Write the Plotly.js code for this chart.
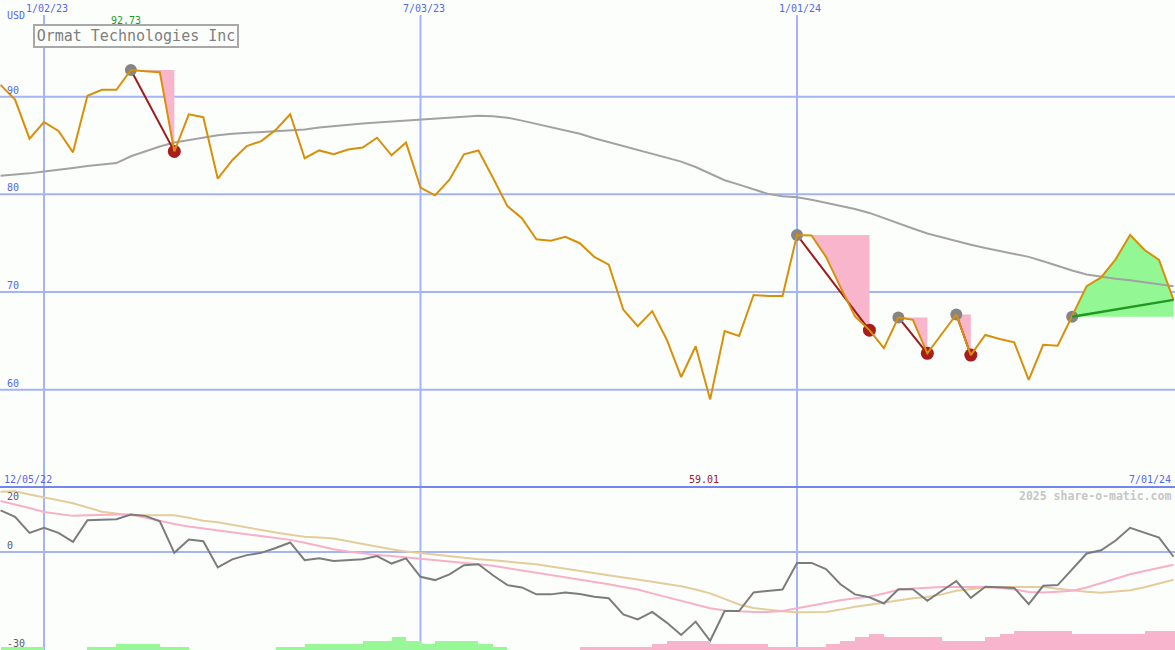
<!DOCTYPE html>
<html><head><meta charset="utf-8">
<script src="https://cdn.plot.ly/plotly-3.0.1.min.js"></script>
<style>html,body{margin:0;padding:0;background:#fcfefc;overflow:hidden}</style>
</head><body><div id="chart" style="width:1175px;height:650px"></div>
<script>
// ---- data ----
const weeks = [
'2022-12-12','2022-12-19','2022-12-26',
'2023-01-02','2023-01-09','2023-01-16','2023-01-23','2023-01-30',
'2023-02-06','2023-02-13','2023-02-20','2023-02-27',
'2023-03-06','2023-03-13','2023-03-20','2023-03-27',
'2023-04-03','2023-04-10','2023-04-17','2023-04-24',
'2023-05-01','2023-05-08','2023-05-15','2023-05-22','2023-05-29',
'2023-06-05','2023-06-12','2023-06-19','2023-06-26',
'2023-07-03','2023-07-10','2023-07-17','2023-07-24','2023-07-31',
'2023-08-07','2023-08-14','2023-08-21','2023-08-28',
'2023-09-04','2023-09-11','2023-09-18','2023-09-25',
'2023-10-02','2023-10-09','2023-10-16','2023-10-23','2023-10-30',
'2023-11-06','2023-11-13','2023-11-20','2023-11-27',
'2023-12-04','2023-12-11','2023-12-18','2023-12-25',
'2024-01-01','2024-01-08','2024-01-15','2024-01-22','2024-01-29',
'2024-02-05','2024-02-12','2024-02-19','2024-02-26',
'2024-03-04','2024-03-11','2024-03-18','2024-03-25',
'2024-04-01','2024-04-08','2024-04-15','2024-04-22','2024-04-29',
'2024-05-06','2024-05-13','2024-05-20','2024-05-27',
'2024-06-03','2024-06-10','2024-06-17','2024-06-24',
'2024-07-01'];

const price = [
91.2, 89.7, 85.7, 87.4, 86.5, 84.3, 90.1, 90.7, 90.7, 92.73,
92.6, 92.5, 84.4, 88.2, 87.9, 81.6, 83.5, 84.95, 85.45, 86.6,
88.2, 83.7, 84.5, 84.1, 84.6, 84.8, 85.8, 84.0, 85.3, 80.7,
79.9, 81.5, 84.1, 84.5, 81.7, 78.8, 77.55, 75.4, 75.25, 75.65,
75.0, 73.6, 72.8, 68.2, 66.5, 68.05, 65.15, 61.3, 64.45, 59.01,
66.0, 65.5, 69.7, 69.6, 69.6, 75.84, 75.8, 73.6, 70.5, 67.5,
66.1, 64.25, 67.4, 67.15, 63.73, 65.7, 67.7, 63.55, 65.6, 65.2,
64.85, 61.0, 64.6, 64.5, 67.47, 70.6, 71.5, 73.35, 75.84, 74.3,
73.3, 69.2];

const movingAvg = [
81.9, 82.0, 82.15, 82.35, 82.5, 82.7, 82.9, 83.05, 83.2, 83.9,
84.4, 84.9, 85.3, 85.55, 85.85, 86.05, 86.2, 86.28, 86.35, 86.42,
86.5, 86.65, 86.85, 87.0, 87.15, 87.25, 87.35, 87.45, 87.55, 87.65,
87.72, 87.78, 87.9, 88.05, 88.0, 87.85, 87.55, 87.2, 86.85, 86.55,
86.2, 85.75, 85.35, 84.95, 84.6, 84.2, 83.8, 83.35, 82.8, 82.15,
81.45, 81.0, 80.5, 80.05, 79.8, 79.7, 79.45, 79.15, 78.85, 78.5,
78.1, 77.55, 77.0, 76.5, 76.0, 75.6, 75.2, 74.85, 74.5, 74.2,
73.95, 73.6, 73.15, 72.65, 72.2, 71.8, 71.55, 71.35, 71.2, 71.0,
70.8, 70.6];

const oscGray = [
12.8, 10.8, 5.85, 7.4, 5.85, 3.1, 9.75, 10.0, 10.06, 11.5,
11.1, 9.45, -0.3, 3.8, 3.3, -4.8, -2.3, -1.0, -0.3, 1.2,
2.9, -2.55, -2.0, -2.8, -2.6, -2.3, -1.3, -3.6, -2.0, -7.7,
-8.7, -6.95, -4.1, -3.8, -7.2, -10.25, -10.95, -13.1, -13.1, -12.5,
-13.0, -13.85, -14.3, -19.3, -20.8, -18.5, -21.8, -25.6, -21.5, -27.4,
-18.25, -18.25, -12.5, -12.0, -11.6, -3.4, -3.4, -5.3, -10.0, -13.1,
-14.0, -15.9, -11.5, -11.5, -15.1, -12.0, -9.0, -14.15, -10.75, -10.9,
-11.1, -16.1, -10.45, -10.25, -5.5, -0.5, 0.5, 3.5, 7.4, 6.0,
4.4, -1.5];

const oscPink = [
15.7, 14.7, 13.5, 12.3, 11.7, 11.1, 11.3, 11.5, 11.5, 11.5,
10.5, 9.6, 8.6, 7.8, 7.2, 6.7, 6.1, 5.6, 5.0, 4.4,
3.7, 2.8, 1.8, 0.8, 0.1, -0.5, -1.0, -1.3, -1.7, -2.0,
-2.4, -2.9, -3.3, -3.8, -4.3, -5.0, -5.6, -6.3, -7.1, -7.8,
-8.6, -9.3, -10.0, -10.8, -11.6, -12.8, -14.0, -15.2, -16.3, -17.4,
-18.1, -18.4, -18.5, -18.5, -18.2, -17.4, -16.5, -15.6, -14.9, -14.3,
-13.8, -12.8, -11.7, -11.3, -11.0, -10.8, -10.8, -10.8, -10.8, -11.1,
-11.6, -12.4, -12.5, -12.3, -12.0, -11.0, -9.6, -8.2, -6.9, -5.9,
-4.9, -4.0];

const oscTan = [
18.5, 18.7, 17.7, 16.7, 15.9, 15.0, 13.6, 12.4, 11.8, 11.3,
11.3, 11.3, 11.3, 10.5, 9.6, 9.1, 8.3, 7.4, 6.6, 6.0,
5.3, 4.7, 4.4, 4.1, 3.3, 2.4, 1.6, 0.8, 0.1, -0.4,
-0.9, -1.3, -1.8, -2.3, -2.6, -3.0, -3.4, -3.8, -4.5, -5.2,
-6.0, -6.7, -7.3, -7.9, -8.5, -9.2, -9.9, -10.6, -11.6, -12.8,
-14.5, -16.2, -17.3, -17.9, -18.3, -18.6, -18.65, -18.5, -17.8, -16.9,
-16.3, -15.6, -14.8, -14.3, -13.9, -13.1, -12.0, -11.4, -11.0, -10.8,
-10.8, -10.8, -10.8, -11.4, -11.9, -12.3, -12.6, -12.3, -11.8, -10.9,
-9.8, -8.6];

const histo = [
1, 1, 1, 0, 0, 0, 1, 1, 2, 2,
2, 1, 1, 0, 0, 0, 0, 0, 0, 1,
1, 2, 2, 2, 2, 3, 3, 4, 3, 2,
3, 3, 3, 2, 1, 0, 0, 0, 0, 0,
-1, -1, -1, -1, -1, -2, -3, -3, -3, -2,
-2, -2, -2, -1, -1, -1, -1, -2, -3, -4,
-5, -4, -4, -4, -4, -3, -3, -3, -4, -5,
-6, -6, -6, -6, -5, -5, -5, -5, -5, -6,
-6, -6];

const dropPeaks = [9, 55, 62, 66];
const dropLows  = [12, 60, 64, 67];
const risePeak = 74;

const priceTicks = [90, 80, 70, 60];
const oscTicks = [20, 0, -30];
const dateTicks = ['2023-01-02', '2023-07-03', '2024-01-01'];
const dateTickText = ['1/02/23', '7/03/23', '1/01/24'];
const startLabel = '12/05/22';
const endLabel = '7/01/24';
const companyName = 'Ormat Technologies Inc';
const currency = 'USD';
const credit = '2025 share-o-matic.com';

// ---- build ----
const W = 1175, H = 650;
const splitY = 163 / H;           // bottom panel fraction
const mono = 'DejaVu Sans Mono, Liberation Mono, monospace';
const blue = '#5566ee';
const grid = '#a4b4f4';
const N = price.length;

const traces = [];

// drawdown pink fills
dropPeaks.forEach((p, k) => {
  const l = dropLows[k], lvl = price[p];
  const xs = [weeks[p], weeks[l]], ys = [lvl, lvl];
  for (let i = l; i >= p; i--) { xs.push(weeks[i]); ys.push(price[i]); }
  traces.push({x: xs, y: ys, mode: 'lines', fill: 'toself', fillcolor: '#f9b5cc',
    line: {width: 0, color: 'rgba(0,0,0,0)'}, hoverinfo: 'skip', xaxis: 'x', yaxis: 'y'});
});

// rally green fill
(function () {
  const xs = [], ys = [];
  for (let i = risePeak; i < N; i++) { xs.push(weeks[i]); ys.push(price[i]); }
  xs.push(weeks[N - 1]); ys.push(price[risePeak]);
  traces.push({x: xs, y: ys, mode: 'lines', fill: 'toself', fillcolor: '#93f893',
    line: {width: 0, color: 'rgba(0,0,0,0)'}, hoverinfo: 'skip', xaxis: 'x', yaxis: 'y'});
})();

// moving average
traces.push({x: weeks, y: movingAvg, mode: 'lines', line: {color: '#a2a2a2', width: 2},
  xaxis: 'x', yaxis: 'y'});

// oscillator panel lines
traces.push({x: weeks, y: oscTan, mode: 'lines', line: {color: '#e4cc9c', width: 2}, xaxis: 'x', yaxis: 'y2'});
traces.push({x: weeks, y: oscPink, mode: 'lines', line: {color: '#f8b0c8', width: 2}, xaxis: 'x', yaxis: 'y2'});
traces.push({x: weeks, y: oscGray, mode: 'lines', line: {color: '#7c7c7c', width: 2}, xaxis: 'x', yaxis: 'y2'});

// histogram bars
const weekMs = 7 * 24 * 3600 * 1000;
traces.push({type: 'bar', x: weeks, y: histo.map(v => v > 0 ? v : 0), width: weekMs, offset: 0,
  marker: {color: '#98f898', line: {width: 0}}, xaxis: 'x', yaxis: 'y3'});
traces.push({type: 'bar', x: weeks, y: histo.map(v => v < 0 ? -v : 0), width: weekMs, offset: 0,
  marker: {color: '#f8b4cc', line: {width: 0}}, xaxis: 'x', yaxis: 'y3'});

// drop connector lines
(function () {
  const xs = [], ys = [];
  dropPeaks.forEach((p, k) => {
    const l = dropLows[k];
    xs.push(weeks[p], weeks[l], null); ys.push(price[p], price[l], null);
  });
  traces.push({x: xs, y: ys, mode: 'lines', line: {color: '#a01818', width: 2}, xaxis: 'x', yaxis: 'y'});
})();

// markers
traces.push({x: dropPeaks.concat([risePeak]).map(i => weeks[i]), y: dropPeaks.concat([risePeak]).map(i => price[i]),
  mode: 'markers', marker: {color: '#858585', size: 12}, xaxis: 'x', yaxis: 'y'});
traces.push({x: dropLows.map(i => weeks[i]), y: dropLows.map(i => price[i]),
  mode: 'markers', marker: {color: '#a81c1c', size: 13}, xaxis: 'x', yaxis: 'y'});

// price line
traces.push({x: weeks, y: price, mode: 'lines', line: {color: '#d8900a', width: 2}, xaxis: 'x', yaxis: 'y'});

// rally trend line
traces.push({x: [weeks[risePeak], weeks[N - 1]], y: [price[risePeak], price[N - 1]], mode: 'lines',
  line: {color: '#1f9a1f', width: 2.5}, xaxis: 'x', yaxis: 'y'});

// ---- shapes ----
const shapes = [];
priceTicks.forEach(v => shapes.push({type: 'line', xref: 'paper', x0: 0, x1: 1, yref: 'y', y0: v, y1: v,
  line: {color: grid, width: 2}, layer: 'below'}));
dateTicks.forEach(d => shapes.push({type: 'line', xref: 'x', x0: d, x1: d, yref: 'paper', y0: 0, y1: 1 - 15 / H,
  line: {color: grid, width: 2}, layer: 'below'}));
shapes.push({type: 'line', xref: 'paper', x0: 0, x1: 1, yref: 'y2', y0: 0, y1: 0,
  line: {color: grid, width: 2}, layer: 'below'});
shapes.push({type: 'line', xref: 'paper', x0: 0, x1: 1, yref: 'paper', y0: splitY, y1: splitY,
  line: {color: '#7486ee', width: 2}, layer: 'below'});

// ---- annotations ----
const ann = [];
function txt(text, x, y, opts) {
  ann.push(Object.assign({text: text, x: x / W, y: 1 - y / H, xref: 'paper', yref: 'paper',
    showarrow: false, xanchor: 'left', yanchor: 'middle',
    font: {family: mono, size: 10, color: blue}}, opts || {}));
}
txt(currency, 5, 16);
dateTicks.forEach((d, k) => ann.push({text: dateTickText[k], xref: 'x', x: d, xshift: 3,
  yref: 'paper', y: 1 - 8.5 / H, showarrow: false, xanchor: 'center', yanchor: 'middle',
  font: {family: mono, size: 10, color: blue}}));
priceTicks.forEach(v => ann.push({text: String(v), xref: 'paper', x: 5 / W, yref: 'y', y: v, yshift: 6.5,
  showarrow: false, xanchor: 'left', yanchor: 'middle', font: {family: mono, size: 10, color: blue}}));
oscTicks.forEach(v => ann.push({text: String(v), xref: 'paper', x: 5 / W, yref: 'y2', y: v,
  yshift: v === 20 ? -9 : 6, showarrow: false, xanchor: 'left', yanchor: 'middle',
  font: {family: mono, size: 10, color: '#5c5c5c'}}));
// peak and low values
const hiIdx = price.indexOf(Math.max.apply(null, price));
const loIdx = price.indexOf(Math.min.apply(null, price));
ann.push({text: price[hiIdx].toFixed(2), xref: 'x', x: weeks[hiIdx], xshift: -5, yref: 'paper', y: 1 - 21 / H,
  showarrow: false, xanchor: 'center', yanchor: 'middle', font: {family: mono, size: 10, color: '#1f9a1f'}});
ann.push({text: price[loIdx].toFixed(2), xref: 'x', x: weeks[loIdx], xshift: -6, yref: 'paper', y: 1 - 479 / H,
  showarrow: false, xanchor: 'center', yanchor: 'middle', font: {family: mono, size: 10, color: '#a01818'}});
txt(startLabel, 2, 479);
txt(endLabel, 1173, 479, {xanchor: 'right'});
txt(credit, 1173, 496, {xanchor: 'right', font: {family: mono, size: 11.5, color: '#c6c6c6', weight: 'bold'}});
// company box
ann.push({text: companyName, xref: 'paper', yref: 'paper', x: 135.5 / W, y: 1 - 36.3 / H,
  xanchor: 'center', yanchor: 'middle', showarrow: false,
  font: {family: mono, size: 15, color: '#7e7e7e'},
  bordercolor: '#a8a8a8', borderwidth: 2, borderpad: 2, bgcolor: '#fcfefc', width: 198, height: 16});

const layout = {
  width: W, height: H, margin: {l: 0, r: 0, t: 0, b: 0},
  paper_bgcolor: '#fcfefc', plot_bgcolor: '#fcfefc', showlegend: false,
  barmode: 'overlay', bargap: 0,
  xaxis: {type: 'date', range: ['2022-12-11 17:30:00', '2024-07-01 17:00:00'], visible: false, fixedrange: true},
  yaxis: {domain: [splitY, 1], range: [50.04, 99.9], visible: false},
  yaxis2: {domain: [0, splitY], range: [-30.25, 20], visible: false},
  yaxis3: {overlaying: 'y2', range: [0, 51.7], visible: false},
  shapes: shapes, annotations: ann
};

Plotly.newPlot('chart', traces, layout, {staticPlot: true, displayModeBar: false});
</script>
</body></html>
